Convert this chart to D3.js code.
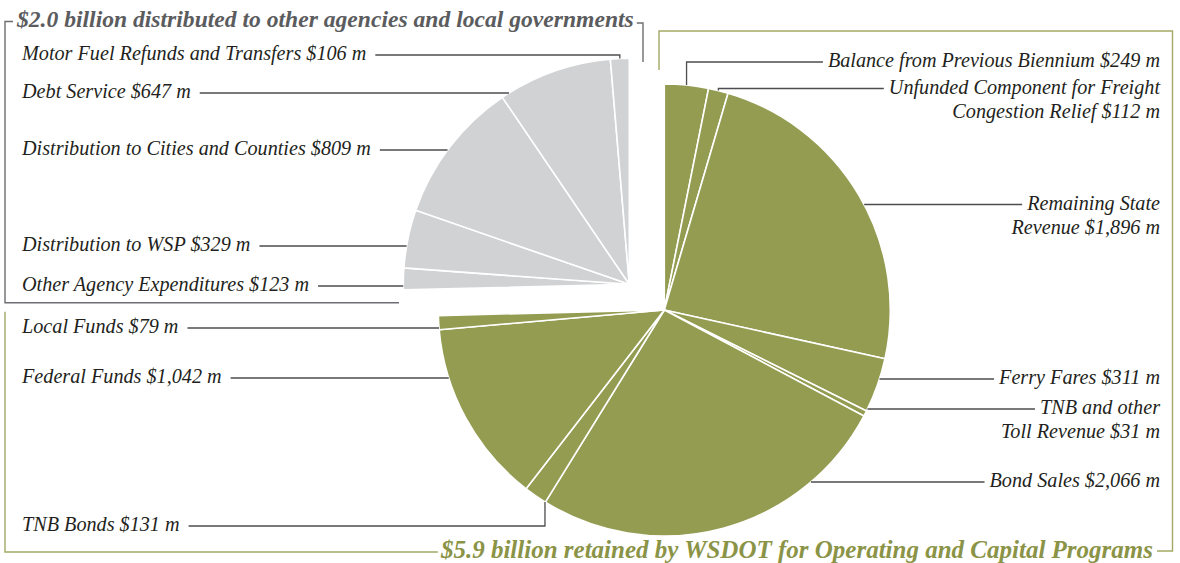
<!DOCTYPE html>
<html>
<head>
<meta charset="utf-8">
<script src="https://cdn.jsdelivr.net/npm/d3@7"></script>
<style>
  html, body { margin: 0; padding: 0; background: #ffffff; }
  svg { display: block; }
  .lbl { font-family: "Liberation Serif", "DejaVu Serif", serif; font-style: italic; font-size: 20.2px; fill: #231f20; }
  .ttl { font-family: "Liberation Serif", "DejaVu Serif", serif; font-style: italic; font-weight: bold; }
</style>
</head>
<body>
<svg id="chart" width="1180" height="563"></svg>
<script>
// ---- DATA ----
const retainedLabels = [
  "Balance from Previous Biennium",
  "Unfunded Component for Freight|Congestion Relief",
  "Remaining State|Revenue",
  "Ferry Fares",
  "TNB and other|Toll Revenue",
  "Bond Sales",
  "TNB Bonds",
  "Federal Funds",
  "Local Funds"
];
const retainedValues = [249, 112, 1896, 311, 31, 2066, 131, 1042, 79];

const distributedLabels = [
  "Other Agency Expenditures",
  "Distribution to WSP",
  "Distribution to Cities and Counties",
  "Debt Service",
  "Motor Fuel Refunds and Transfers"
];
const distributedValues = [123, 329, 809, 647, 106];

const retainedTitle = "$5.9 billion retained by WSDOT for Operating and Capital Programs";
const distributedTitle = "$2.0 billion distributed to other agencies and local governments";

// ---- LAYOUT ----
const R = 226;
const greenCenter = [664.3, 310];
const grayCenter = [629.3, 284.3];
const GREEN = "#949c51", GRAY = "#d1d2d4";
const LEADER = "#4d4d4f";

// label layout (side, first-line baseline, leader kind, anchor fraction for elbows)
const retainedLayout = [
  {side: "right", y: 67,    kind: "elbow", frac: 0.5},
  {side: "right", y: 93.5,  kind: "elbow", frac: 0.5},
  {side: "right", y: 209.5, kind: "h"},
  {side: "right", y: 384,   kind: "h"},
  {side: "right", y: 414,   kind: "h"},
  {side: "right", y: 487,   kind: "h"},
  {side: "left",  y: 531,   kind: "elbow", frac: 0.02},
  {side: "left",  y: 383,   kind: "h"},
  {side: "left",  y: 333,   kind: "h"}
];
const distributedLayout = [
  {side: "left", y: 291, kind: "h"},
  {side: "left", y: 251, kind: "h"},
  {side: "left", y: 155, kind: "h"},
  {side: "left", y: 98,  kind: "h"},
  {side: "left", y: 60,  kind: "elbow", frac: 0.5}
];

const fmt = d3.format(",");
const items = [];
retainedLabels.forEach((l, i) => items.push({group: "g", label: l, value: retainedValues[i], layout: retainedLayout[i]}));
distributedLabels.forEach((l, i) => items.push({group: "d", label: l, value: distributedValues[i], layout: distributedLayout[i]}));

const svg = d3.select("#chart");
const pie = d3.pie().sort(null).value(d => d.value);
const arcs = pie(items);
const arcGen = d3.arc().innerRadius(0).outerRadius(R);

// slices
const gGreen = svg.append("g").attr("transform", `translate(${greenCenter})`);
const gGray = svg.append("g").attr("transform", `translate(${grayCenter})`);
arcs.forEach(a => {
  const g = a.data.group === "g" ? gGreen : gGray;
  g.append("path")
    .attr("d", arcGen(a))
    .attr("fill", a.data.group === "g" ? GREEN : GRAY)
    .attr("stroke", "#ffffff")
    .attr("stroke-width", 1.6)
    .attr("stroke-linejoin", "round");
});

// labels + leaders
const lblG = svg.append("g");
const leadG = svg.append("g");
arcs.forEach(a => {
  const d = a.data, L = d.layout;
  const c = d.group === "g" ? greenCenter : grayCenter;
  const lines = d.label.split("|");
  lines[lines.length - 1] += " $" + fmt(d.value) + " m";
  const right = L.side === "right";
  const tx = right ? 1160 : 22;
  const t = lblG.append("text").attr("class", "lbl")
    .attr("text-anchor", right ? "end" : "start");
  lines.forEach((ln, k) => {
    t.append("tspan").attr("x", tx).attr("y", L.y + k * 24).text(ln);
  });
  const firstW = t.select("tspan").node().getComputedTextLength();
  const ly = L.y - 5;
  const textEdge = right ? tx - firstW - 5 : tx + firstW + 9;
  let pts;
  if (L.kind === "h") {
    const dy = ly - c[1];
    const dx = Math.sqrt(Math.max(0, R * R - dy * dy));
    const ax = right ? c[0] + dx : c[0] - dx;
    pts = [[textEdge, ly], [ax, ly]];
  } else {
    const ang = a.startAngle + L.frac * (a.endAngle - a.startAngle);
    const px = c[0] + R * Math.sin(ang), py = c[1] - R * Math.cos(ang);
    pts = [[textEdge, ly], [px, ly], [px, py]];
  }
  leadG.append("path")
    .attr("d", d3.line()(pts))
    .attr("fill", "none")
    .attr("stroke", LEADER)
    .attr("stroke-width", 1.3);
});

// ---- brackets and titles ----
const grayTitle = svg.append("text").attr("class", "ttl")
  .attr("x", 17).attr("y", 27)
  .attr("font-size", 23.6).attr("fill", "#5b5c5e")
  .text(distributedTitle);
const gtW = grayTitle.node().getComputedTextLength();
svg.append("path")
  .attr("d", `M13,21.5 H5 V302.7 H399`)
  .attr("fill", "none").attr("stroke", "#6d6e71").attr("stroke-width", 1.4);
svg.append("path")
  .attr("d", `M${17 + gtW + 3},23 H643 V62`)
  .attr("fill", "none").attr("stroke", "#6d6e71").attr("stroke-width", 1.4);

const greenTitle = svg.append("text").attr("class", "ttl")
  .attr("x", 1153).attr("y", 558).attr("text-anchor", "end")
  .attr("font-size", 25).attr("fill", "#8a9346")
  .text(retainedTitle);
const grW = greenTitle.node().getComputedTextLength();
const grad = svg.append("defs").append("linearGradient").attr("id", "fade")
  .attr("x1", "0%").attr("x2", "100%");
grad.append("stop").attr("offset", "0%").attr("stop-color", "#98a05a");
grad.append("stop").attr("offset", "100%").attr("stop-color", "#d3d7b3");
svg.append("path")
  .attr("d", `M659,70 V31 H1172.5 V551 H1157`)
  .attr("fill", "none").attr("stroke", "#a3a964").attr("stroke-width", 1.4);
svg.append("path")
  .attr("d", `M${1153 - grW - 3},552 H5 V311.7`)
  .attr("fill", "none").attr("stroke", "#a3a964").attr("stroke-width", 1.4);
svg.append("line")
  .attr("x1", 5).attr("x2", 392).attr("y1", 311.7).attr("y2", 311.7)
  .attr("stroke", "url(#fade)").attr("stroke-width", 1.4);
</script>
</body>
</html>
